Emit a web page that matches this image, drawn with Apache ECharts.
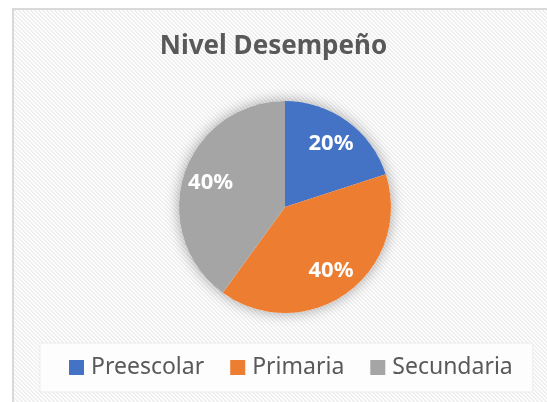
<!DOCTYPE html>
<html>
<head>
<meta charset="utf-8">
<script src="https://cdn.jsdelivr.net/npm/echarts@6/dist/echarts.min.js"></script>
<style>
html,body{margin:0;padding:0;background:#fff;}
#c{width:547px;height:402px;}
</style>
</head>
<body>
<div id="c"></div>
<script>
const titleText = 'Nivel Desempeño';
const categories = ['Preescolar', 'Primaria', 'Secundaria'];
const values = [20, 40, 40];
const colors = ['#4472C4', '#ED7D31', '#A5A5A5'];

// diagonal stripe pattern for chart area
const tile = document.createElement('canvas');
tile.width = 4; tile.height = 4;
const tctx = tile.getContext('2d');
tctx.fillStyle = '#ffffff';
tctx.fillRect(0, 0, 4, 4);
tctx.fillStyle = '#eeeeee';
for (let y = 0; y < 4; y++) {
  for (let x = 0; x < 4; x++) {
    if (((x - y) % 4 + 4) % 4 < 2) tctx.fillRect(x, y, 1, 1);
  }
}

const chart = echarts.init(document.getElementById('c'), null, {renderer: 'canvas'});
const center = [285, 207];
const R = 106;
const data = categories.map((n, i) => ({name: n, value: values[i], itemStyle: {color: colors[i]}}));

chart.setOption({
  backgroundColor: '#ffffff',
  graphic: [{
    type: 'rect', z: -10, silent: true,
    shape: {x: 13, y: 9, width: 560, height: 420},
    style: {fill: {image: tile, repeat: 'repeat'}, stroke: '#d9d9d9', lineWidth: 2}
  }],
  title: {
    text: titleText,
    left: 'center',
    top: 29,
    textStyle: {fontFamily: 'Noto Sans', fontWeight: 'bold', fontSize: 26, color: '#595959'}
  },
  legend: {
    data: categories,
    left: 40,
    top: 343,
    width: 490,
    height: 23,
    padding: [13, 20, 13, 29],
    itemGap: 26,
    itemWidth: 15,
    itemHeight: 15,
    icon: 'rect',
    backgroundColor: 'rgba(255,255,255,0.75)',
    borderColor: 'rgba(232,232,232,0.8)',
    borderWidth: 1,
    textStyle: {fontFamily: 'Noto Sans', fontSize: 23, color: '#595959', padding: [0, 0, 0, 2]}
  },
  series: [
    {
      type: 'pie', name: 'shadow', silent: true, z: 1,
      center: center, radius: R,
      label: {show: false}, labelLine: {show: false},
      itemStyle: {color: '#ffffff', shadowBlur: 14, shadowColor: 'rgba(0,0,0,0.35)'},
      data: [{name: '_', value: 1}],
      animation: false
    },
    {
      type: 'pie', name: titleText, z: 2,
      center: center, radius: R,
      startAngle: 90, clockwise: true,
      label: {show: false}, labelLine: {show: false},
      emphasis: {disabled: true},
      data: data,
      animation: false
    },
    {
      type: 'pie', name: 'labels', silent: true, z: 3,
      center: center, radius: [R * 0.42, R],
      startAngle: 90, clockwise: true,
      itemStyle: {color: 'rgba(0,0,0,0)'},
      emphasis: {disabled: true},
      label: {
        show: true, position: 'inside',
        formatter: p => p.value + '%',
        fontFamily: 'Noto Sans', fontWeight: 'bold', fontSize: 22, color: '#ffffff'
      },
      labelLine: {show: false},
      data: categories.map((n, i) => ({name: n, value: values[i]})),
      animation: false
    }
  ]
});
</script>
</body>
</html>
